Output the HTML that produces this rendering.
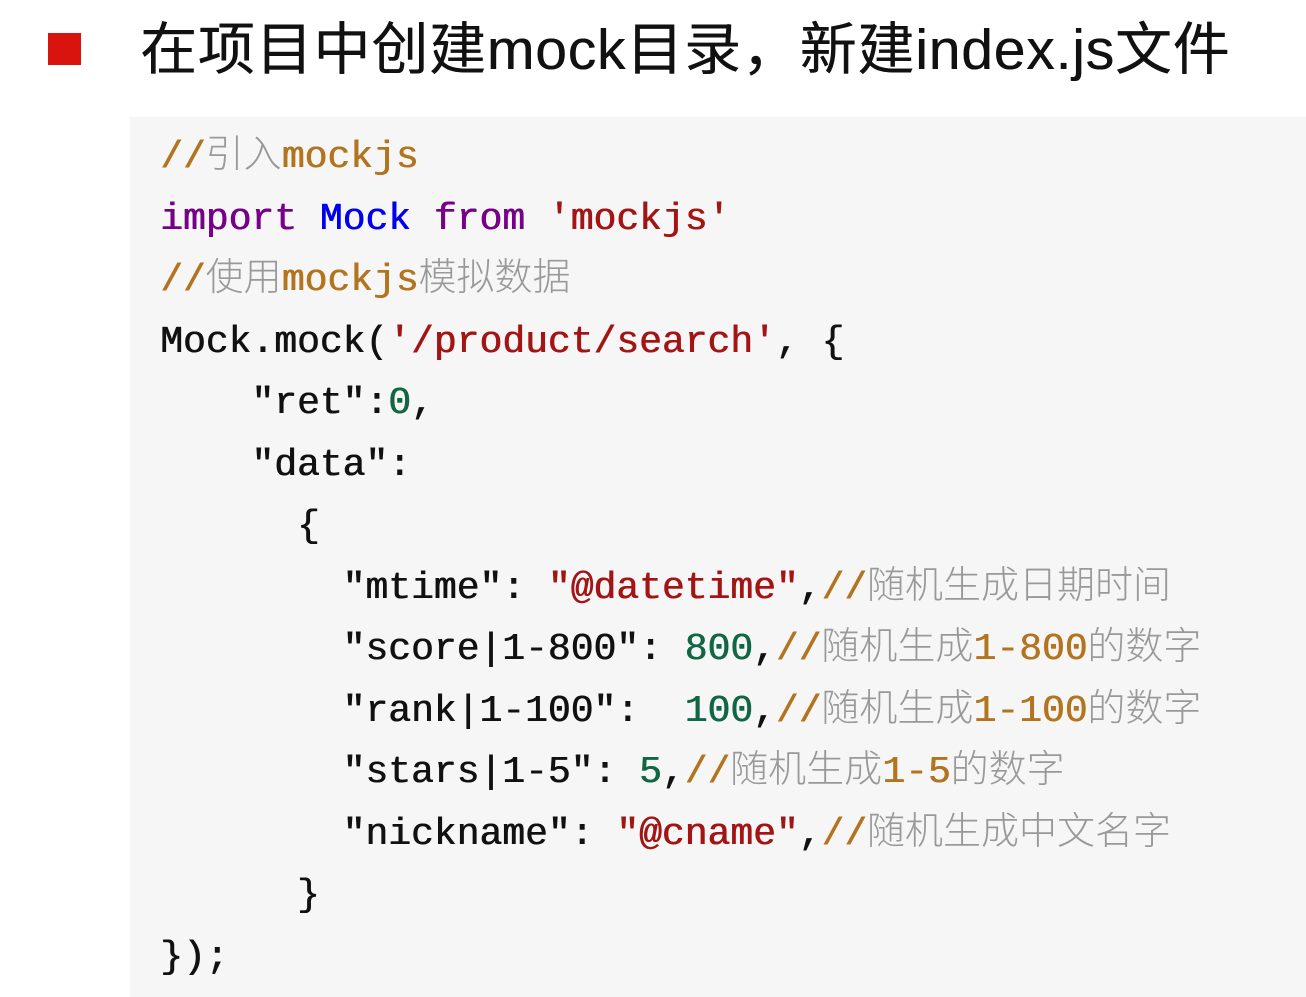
<!DOCTYPE html>
<html><head><meta charset="utf-8"><style>
html,body{margin:0;padding:0;width:1306px;height:997px;background:#fff;overflow:hidden;position:relative}
.sq{position:absolute;left:48px;top:33px;width:33px;height:32px;background:#d9140f}
.title{position:absolute;left:140px;top:12px;font-family:"Liberation Sans","Noto Sans CJK SC",sans-serif;font-size:57px;letter-spacing:0.8px;color:#111;white-space:nowrap;line-height:76px;text-shadow:0.4px 0 currentColor}
.box{position:absolute;left:130px;top:117px;width:1176px;height:880px;background:#f6f6f6}
.code{position:absolute;left:160px;top:127px;font-family:"Liberation Mono","Noto Sans CJK SC",monospace;font-size:38px;color:#111;text-shadow:0.7px 0 currentColor}
.code div{height:61.5px;line-height:61.5px;white-space:pre}
.c{color:#b2741f}.cz{color:#999;font-family:"Noto Sans CJK SC",sans-serif;font-weight:300;line-height:1;text-shadow:none}
.k{color:#770088}.v{color:#0000ee}.s{color:#a31515}.n{color:#116644}
</style></head><body>
<div class="sq"></div>
<div class="title">在项目中创建mock目录，新建index.js文件</div>
<div class="box"></div>
<div class="code">
<div><span class="c">//<span class="cz">引入</span>mockjs</span></div>
<div><span class="k">import</span> <span class="v">Mock</span> <span class="k">from</span> <span class="s">'mockjs'</span></div>
<div><span class="c">//<span class="cz">使用</span>mockjs<span class="cz">模拟数据</span></span></div>
<div>Mock.mock(<span class="s">'/product/search'</span>, {</div>
<div>    "ret":<span class="n">0</span>,</div>
<div>    "data":</div>
<div>      {</div>
<div>        "mtime": <span class="s">"@datetime"</span>,<span class="c">//<span class="cz">随机生成日期时间</span></span></div>
<div>        "score|1-800": <span class="n">800</span>,<span class="c">//<span class="cz">随机生成</span>1-800<span class="cz">的数字</span></span></div>
<div>        "rank|1-100":  <span class="n">100</span>,<span class="c">//<span class="cz">随机生成</span>1-100<span class="cz">的数字</span></span></div>
<div>        "stars|1-5": <span class="n">5</span>,<span class="c">//<span class="cz">随机生成</span>1-5<span class="cz">的数字</span></span></div>
<div>        "nickname": <span class="s">"@cname"</span>,<span class="c">//<span class="cz">随机生成中文名字</span></span></div>
<div>      }</div>
<div>});</div>
</div>
</body></html>
